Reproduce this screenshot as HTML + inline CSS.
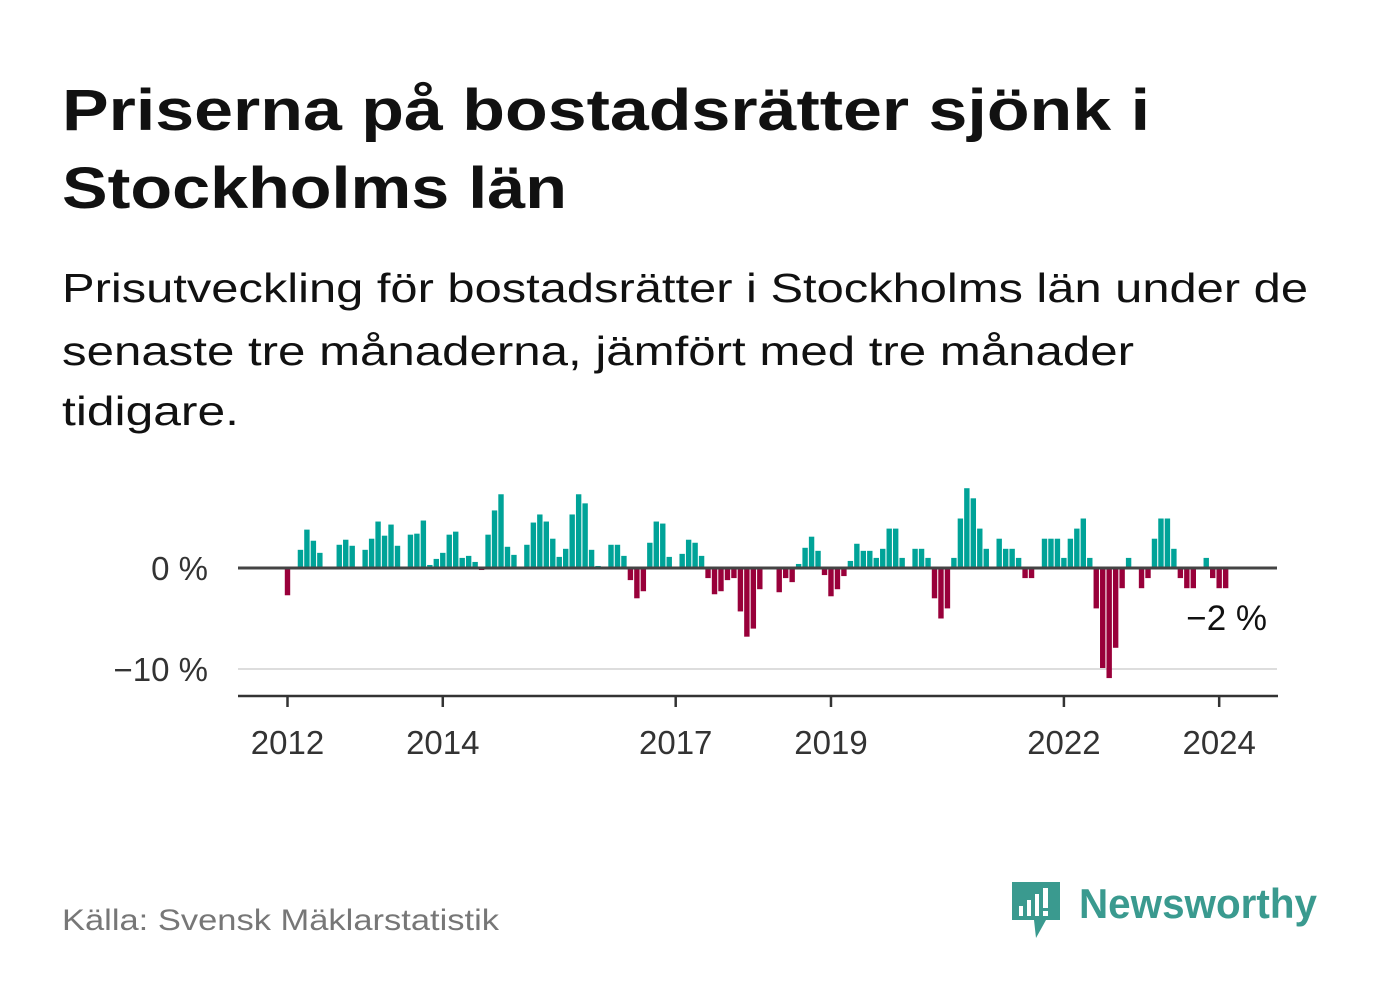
<!DOCTYPE html>
<html><head><meta charset="utf-8"><style>
html,body{margin:0;padding:0;background:#fff;}
svg{display:block;font-family:"Liberation Sans",sans-serif;}
</style></head><body>
<svg width="1382" height="999" viewBox="0 0 1382 999">
<text x="62" y="130" font-size="58" font-weight="bold" fill="#111" textLength="1088" lengthAdjust="spacingAndGlyphs">Priserna på bostadsrätter sjönk i</text>
<text x="62" y="208" font-size="58" font-weight="bold" fill="#111" textLength="505" lengthAdjust="spacingAndGlyphs">Stockholms län</text>
<text x="62" y="302" font-size="41" fill="#111" textLength="1246" lengthAdjust="spacingAndGlyphs">Prisutveckling för bostadsrätter i Stockholms län under de</text>
<text x="62" y="365" font-size="41" fill="#111" textLength="1072" lengthAdjust="spacingAndGlyphs">senaste tre månaderna, jämfört med tre månader</text>
<text x="62" y="425" font-size="41" fill="#111" textLength="177" lengthAdjust="spacingAndGlyphs">tidigare.</text>
<g id="plot"></g>
<text x="62" y="930" font-size="30" fill="#777" textLength="437" lengthAdjust="spacingAndGlyphs">Källa: Svensk Mäklarstatistik</text>
<g>
<path d="M1012 882 h48 v38 h-14 l-10 18 l-2 -18 h-22 z" fill="#3a9a8f"/>
<rect x="1019" y="906" width="4" height="10" fill="#fff"/>
<rect x="1027" y="900" width="4" height="16" fill="#fff"/>
<rect x="1035" y="894" width="4" height="22" fill="#fff"/>
<rect x="1043" y="888" width="5" height="20" fill="#fff"/>
<rect x="1043" y="911" width="5" height="5" fill="#fff"/>
<text x="1079" y="918" font-size="42" font-weight="bold" fill="#3a9a8f" textLength="238" lengthAdjust="spacingAndGlyphs">Newsworthy</text>
</g>
</svg>
<script>
const values = [-2.7,-0.1,1.8,3.8,2.7,1.5,0,0,2.3,2.8,2.2,0,1.8,2.9,4.6,3.2,4.3,2.2,0,3.3,3.4,4.7,0.3,0.9,1.5,3.3,3.6,1.0,1.2,0.6,-0.2,3.3,5.7,7.3,2.1,1.3,0,2.3,4.5,5.3,4.6,2.9,1.1,1.9,5.3,7.3,6.4,1.8,0.2,0,2.3,2.3,1.2,-1.2,-3.0,-2.3,2.5,4.6,4.4,1.1,0,1.4,2.8,2.5,1.2,-1.0,-2.6,-2.3,-1.2,-1.0,-4.3,-6.8,-6.0,-2.1,0,0,-2.4,-1.0,-1.4,0.4,2.0,3.1,1.7,-0.7,-2.8,-2.1,-0.8,0.7,2.4,1.7,1.7,1.0,1.9,3.9,3.9,1.0,0,1.9,1.9,1.0,-3.0,-5.0,-4.0,1.0,4.9,7.9,6.9,3.9,1.9,0,2.9,1.9,1.9,1.0,-1.0,-1.0,0,2.9,2.9,2.9,1.0,2.9,3.9,4.9,1.0,-4.0,-9.9,-10.9,-7.9,-2.0,1.0,0,-2.0,-1.0,2.9,4.9,4.9,1.9,-1.0,-2.0,-2.0,0,1.0,-1.0,-2.0,-2.0];
const startYear = 2012;
const yTicks = [0,-10];
const yTickLabels = ["0 %","\u221210 %"];
const xTickYears = [2012,2014,2017,2019,2022,2024];
const lastLabel = "\u22122 %";
const NS="http://www.w3.org/2000/svg";
const plot=document.getElementById('plot');
const x0=287.5, monthW=6.47, yZero=568, pxPer=10.1;
const xs=m=>x0+m*monthW;
const ys=v=>yZero-v*pxPer;
function mk(tag,attrs){const e=document.createElementNS(NS,tag);for(const k in attrs)e.setAttribute(k,attrs[k]);plot.appendChild(e);return e;}
yTicks.forEach((t,i)=>{
  if(t!==0){const g=mk('line',{x1:238,x2:1277,y1:ys(t),y2:ys(t),stroke:'#ddd','stroke-width':2});
  
  }
  const l=mk('text',{x:208,y:ys(t)+12,'font-size':33,fill:'#333','text-anchor':'end'});
  l.textContent=yTickLabels[i];
  
  
});
values.forEach((v,i)=>{
  if(v===0)return;
  const y=v>0?ys(v):yZero, h=Math.abs(v)*pxPer;
  const r=mk('rect',{x:xs(i)-2.7,y:y,width:5.4,height:h,fill:v>0?'#00a398':'#99003a'});
  
  
});
const z=mk('line',{x1:238,x2:1277,y1:yZero,y2:yZero,stroke:'#444','stroke-width':3});


const ax=mk('line',{x1:238,x2:1278,y1:696,y2:696,stroke:'#333','stroke-width':2.5});


xTickYears.forEach(yr=>{
  const x=xs((yr-startYear)*12);
  const t=mk('line',{x1:x,x2:x,y1:696,y2:707,stroke:'#333','stroke-width':2.5});
  
  
  const l=mk('text',{x:x,y:754,'font-size':33,fill:'#333','text-anchor':'middle'});
  l.textContent=String(yr);
  
  
});
const ll=mk('text',{x:1267,y:630,'font-size':35,fill:'#111','text-anchor':'end'});
ll.textContent=lastLabel;


</script>
</body></html>
